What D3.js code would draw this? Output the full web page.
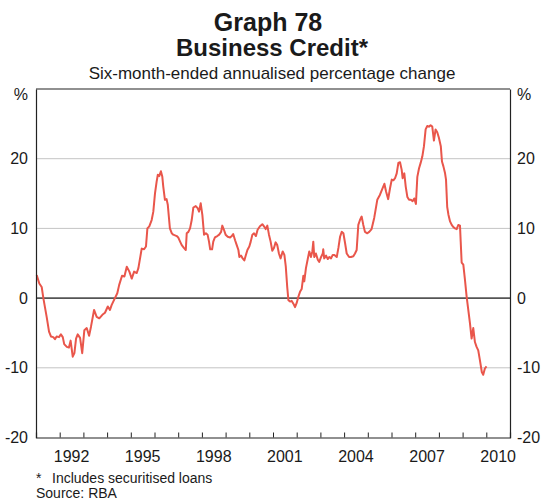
<!DOCTYPE html>
<html>
<head>
<meta charset="utf-8">
<script src="https://cdn.jsdelivr.net/npm/d3@7"></script>
<style>
  html, body { margin: 0; padding: 0; background: #fff; }
  svg { display: block; font-family: Arial, "Liberation Sans", Helvetica, sans-serif; }
</style>
</head>
<body>
<svg id="chart" width="551" height="500"></svg>
<script>
// ---- Data ----
const title = "Graph 78";
const chartTitle = "Business Credit*";
const subtitle = "Six-month-ended annualised percentage change";
const footnote = "Includes securitised loans";
const source = "Source: RBA";

// decimal-year positions of observations
const dates = [
  1991.03,1991.14,1991.24,1991.31,1991.45,1991.55,1991.63,1991.73,1991.80,1991.87,1991.97,
  1992.05,1992.13,1992.19,1992.30,1992.39,1992.46,1992.55,1992.62,1992.69,1992.76,1992.86,1992.95,
  1993.04,1993.14,1993.24,1993.32,1993.45,1993.56,1993.67,1993.80,1993.91,
  1994.03,1994.12,1994.19,1994.33,1994.43,1994.51,1994.63,1994.73,1994.83,1994.94,
  1995.04,1995.14,1995.25,1995.32,1995.46,1995.56,1995.64,1995.70,1995.78,1995.88,1995.95,
  1996.02,1996.09,1996.14,1996.20,1996.27,1996.33,1996.37,1996.44,1996.51,1996.56,1996.61,1996.65,1996.73,1996.79,1996.94,
  1997.00,1997.08,1997.15,1997.24,1997.32,1997.36,1997.43,1997.50,1997.57,1997.64,1997.74,1997.82,1997.88,1997.95,
  1998.02,1998.09,1998.17,1998.24,1998.30,1998.35,1998.43,1998.48,1998.55,1998.65,1998.73,1998.81,1998.86,1998.93,
  1999.00,1999.09,1999.19,1999.26,1999.32,1999.40,1999.47,1999.54,1999.58,1999.65,1999.72,1999.79,1999.85,1999.92,
  2000.00,2000.06,2000.13,2000.20,2000.28,2000.35,2000.45,2000.55,2000.62,2000.69,2000.76,2000.83,2000.90,2000.97,
  2001.04,2001.11,2001.18,2001.25,2001.32,2001.41,2001.48,2001.54,2001.60,2001.65,2001.72,2001.79,2001.86,2001.93,
  2002.00,2002.07,2002.14,2002.21,2002.28,2002.32,2002.39,2002.46,2002.53,2002.60,2002.66,2002.70,2002.74,2002.81,2002.89,2002.95,
  2003.03,2003.10,2003.12,2003.16,2003.24,2003.31,2003.38,2003.45,2003.52,2003.59,2003.69,2003.76,2003.83,2003.90,2003.97,
  2004.04,2004.11,2004.21,2004.29,2004.39,2004.46,2004.53,2004.60,2004.67,2004.74,2004.81,2004.88,2004.98,
  2005.06,2005.16,2005.27,2005.33,2005.40,2005.51,2005.63,2005.70,2005.77,2005.86,2005.94,
  2006.01,2006.08,2006.15,2006.22,2006.29,2006.36,2006.43,2006.47,2006.54,2006.60,2006.67,2006.74,2006.82,2006.89,2006.96,
  2007.03,2007.09,2007.16,2007.23,2007.30,2007.37,2007.44,2007.51,2007.58,2007.65,2007.72,2007.79,2007.86,2007.93,
  2008.00,2008.08,2008.13,2008.19,2008.26,2008.30,2008.35,2008.40,2008.47,2008.54,2008.61,2008.68,2008.75,2008.82,2008.89,
  2008.92,2008.96,2009.03,2009.10,2009.17,2009.24,2009.31,2009.38,2009.45,2009.52,2009.59,2009.66,2009.73,2009.81,2009.87,2009.94,2010.01
];

// six-month-ended annualised % change
const credit = [
  3.3,2.1,1.6,0.0,-2.7,-4.8,-5.5,-5.6,-5.9,-5.5,-5.6,
  -5.2,-5.6,-6.6,-7.0,-7.1,-6.1,-8.4,-7.9,-5.8,-5.2,-5.7,-7.9,
  -4.6,-4.3,-5.4,-4.1,-1.7,-2.7,-2.9,-2.4,-2.1,
  -1.2,-1.7,-1.0,0.0,0.7,1.9,3.2,3.1,4.5,3.8,
  2.8,3.8,3.6,4.3,7.1,7.0,7.4,10.0,10.3,11.2,12.4,
  15.0,16.7,17.7,17.5,18.2,17.4,16.0,14.1,14.2,13.4,11.5,10.0,9.3,9.1,8.9,
  8.7,8.1,7.6,7.2,6.9,9.3,9.5,10.0,11.2,13.0,13.2,12.9,12.4,13.6,
  11.9,9.1,9.3,9.1,8.1,7.0,7.0,8.1,8.7,8.9,9.1,9.5,10.4,9.8,
  9.1,8.8,8.7,8.9,9.2,8.3,7.6,6.9,5.9,6.1,5.7,5.4,6.1,6.9,
  7.4,8.1,9.1,9.3,8.9,9.8,10.3,10.6,10.3,9.9,10.4,9.1,8.1,6.8,
  7.2,8.0,7.6,6.4,5.7,6.7,6.2,4.5,1.6,-0.3,-0.5,-0.4,-0.8,-1.3,
  -0.7,0.2,0.9,1.3,3.2,2.4,4.3,5.5,6.7,5.9,6.7,8.1,5.9,6.4,5.5,5.2,
  5.9,6.4,7.0,5.7,6.1,5.6,5.9,5.7,6.2,6.2,5.9,7.2,8.8,9.5,9.3,
  7.9,6.4,5.9,5.9,6.0,6.4,6.9,10.5,11.2,11.7,10.5,9.5,9.3,
  9.5,9.9,11.5,12.7,14.1,14.8,15.8,16.4,15.3,14.2,15.8,
  17.0,16.9,17.2,17.9,19.4,19.5,18.4,17.2,17.9,16.0,14.5,14.1,14.1,13.9,14.3,
  13.5,17.4,18.6,19.4,20.3,21.8,24.2,24.7,24.6,24.8,24.6,22.6,24.2,23.8,
  23.0,21.8,19.6,18.9,17.9,17.0,13.1,12.0,11.0,10.5,10.2,10.0,9.9,10.5,10.4,
  8.1,5.1,4.8,2.6,0.2,-1.7,-3.6,-5.8,-4.3,-6.3,-7.0,-7.5,-8.9,-10.6,-11.0,-10.1,-9.8
];

const yTicks = [-20, -10, 0, 10, 20];
const xLabelYears = [1992, 1995, 1998, 2001, 2004, 2007, 2010];

// ---- Layout ----
const svg = d3.select("#chart");
const m = { left: 36, right: 510, top: 89, bottom: 437.5 };

const x = d3.scaleLinear().domain([1991, 2011]).range([m.left, m.right]);
const y = d3.scaleLinear().domain([-20, 30]).range([m.bottom, m.top]);

const series = dates.map((d, i) => ({ t: d, v: credit[i] }));
const fmt = d => String(d);

// titles
const cx = 272;
svg.append("text").attr("x", cx - 4).attr("y", 31).attr("text-anchor", "middle")
  .attr("font-size", 25).attr("font-weight", "bold").attr("fill", "#1a1a1a").text(title);
svg.append("text").attr("x", cx).attr("y", 56).attr("text-anchor", "middle")
  .attr("font-size", 24).attr("font-weight", "bold").attr("fill", "#1a1a1a").text(chartTitle);
svg.append("text").attr("x", cx).attr("y", 79).attr("text-anchor", "middle")
  .attr("font-size", 17).attr("fill", "#1a1a1a").text(subtitle);

// gridlines
const grid = svg.append("g");
grid.selectAll("line").data(yTicks.filter(t => t !== 0 && t !== -20)).join("line")
  .attr("x1", m.left).attr("x2", m.right)
  .attr("y1", d => y(d)).attr("y2", d => y(d))
  .attr("stroke", "#c4c4c4").attr("stroke-width", 1);

// zero line
svg.append("line").attr("x1", m.left).attr("x2", m.right)
  .attr("y1", y(0)).attr("y2", y(0))
  .attr("stroke", "#555").attr("stroke-width", 1.6);

// data line
const line = d3.line().x(d => x(d.t)).y(d => y(d.v));
svg.append("path").datum(series)
  .attr("fill", "none").attr("stroke", "#e9564b").attr("stroke-width", 2)
  .attr("stroke-linejoin", "round").attr("d", line);

// frame: top line
svg.append("line").attr("x1", m.left).attr("x2", m.right)
  .attr("y1", y(30)).attr("y2", y(30)).attr("stroke", "#222").attr("stroke-width", 1.2);

// left axis
const leftAxis = d3.axisLeft(y).tickValues(yTicks).tickSize(0).tickPadding(8).tickFormat(fmt);
const gl = svg.append("g").attr("transform", `translate(${m.left},0)`).call(leftAxis);
gl.select(".domain").attr("stroke", "#222").attr("stroke-width", 1.2);
gl.selectAll("text").attr("font-size", 16).attr("fill", "#1a1a1a").attr("font-family", "Arial, 'Liberation Sans', sans-serif");

// right axis
const rightAxis = d3.axisRight(y).tickValues(yTicks).tickSize(0).tickPadding(7).tickFormat(fmt);
const gr = svg.append("g").attr("transform", `translate(${m.right},0)`).call(rightAxis);
gr.select(".domain").attr("stroke", "#222").attr("stroke-width", 1.2);
gr.selectAll("text").attr("font-size", 16).attr("fill", "#1a1a1a").attr("font-family", "Arial, 'Liberation Sans', sans-serif");

// % labels
svg.append("text").attr("x", 28).attr("y", y(30) + 6).attr("dy", "0.32em").attr("text-anchor", "end")
  .attr("font-size", 16).attr("fill", "#1a1a1a").text("%");
svg.append("text").attr("x", 517).attr("y", y(30) + 6).attr("dy", "0.32em").attr("text-anchor", "start")
  .attr("font-size", 16).attr("fill", "#1a1a1a").text("%");

// bottom axis: yearly ticks pointing up, labels at mid-year
const yearTicks = d3.range(1992, 2011);
const bottomAxis = d3.axisBottom(x).tickValues(yearTicks).tickSize(-5).tickFormat("");
const gb = svg.append("g").attr("transform", `translate(0,${m.bottom})`).call(bottomAxis);
gb.select(".domain").attr("stroke", "#222").attr("stroke-width", 1.2);
gb.selectAll(".tick line").attr("stroke", "#222");

svg.append("g").selectAll("text").data(xLabelYears).join("text")
  .attr("x", d => x(d + 0.5)).attr("y", m.bottom + 24)
  .attr("text-anchor", "middle").attr("font-size", 16).attr("fill", "#1a1a1a")
  .text(d => d);

// footnotes
svg.append("text").attr("x", 36).attr("y", 483).attr("font-size", 14).attr("fill", "#1a1a1a").text("*");
svg.append("text").attr("x", 52).attr("y", 483).attr("font-size", 14).attr("fill", "#1a1a1a").text(footnote);
svg.append("text").attr("x", 36).attr("y", 498).attr("font-size", 14).attr("fill", "#1a1a1a").text(source);
</script>
</body>
</html>
